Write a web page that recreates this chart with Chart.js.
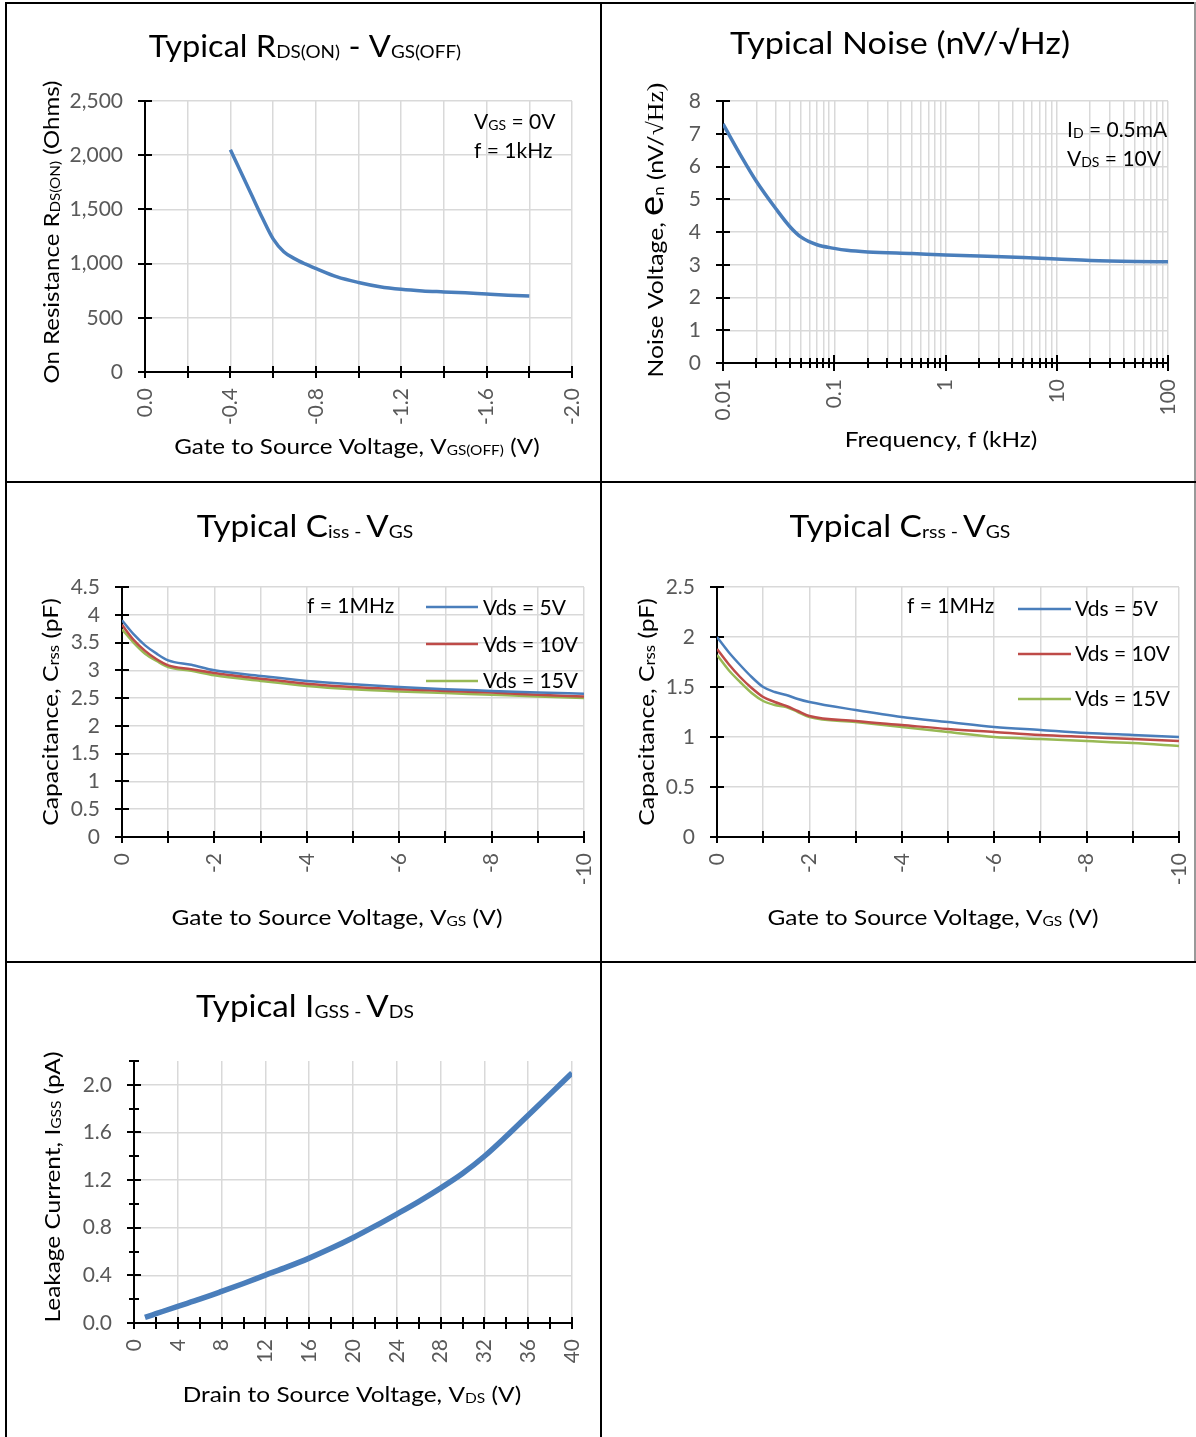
<!DOCTYPE html>
<html>
<head>
<meta charset="utf-8">
<script src="https://cdn.jsdelivr.net/npm/chart.js@4.4.1/dist/chart.umd.min.js"></script>
<style>
  body { margin: 0; background: #fff; }
  #page { position: relative; width: 1196px; height: 1437px; overflow: hidden; background: #fff; }
  #page canvas { position: absolute; }
  .rule { position: absolute; background: #000; z-index: 5; }
</style>
</head>
<body>
<div id="page">
  <canvas id="rds"></canvas>
  <canvas id="noise"></canvas>
  <canvas id="ciss"></canvas>
  <canvas id="crss"></canvas>
  <canvas id="igss"></canvas>

  <div class="rule" style="left:5px;top:2px;width:1191px;height:2px"></div>
  <div class="rule" style="left:5px;top:2px;width:2px;height:1435px"></div>
  <div class="rule" style="left:600px;top:2px;width:2px;height:1435px"></div>
  <div class="rule" style="left:1194px;top:2px;width:2px;height:961px;background:#999"></div>
  <div class="rule" style="left:5px;top:481px;width:1191px;height:2px"></div>
  <div class="rule" style="left:5px;top:961px;width:1191px;height:2px"></div>
</div>
<script>
const SANS = 'Lato, "Open Sans", sans-serif'
const SERIF = '"Liberation Serif", "DejaVu Serif", serif'
const BLUE = '#4a7ebb', RED = '#be4b48', GREEN = '#98b954'

// ---- RDS(ON) vs VGS(OFF) ----
const rdsVgs = [-0.4, -0.45, -0.5, -0.55, -0.6, -0.65, -0.7, -0.75, -0.8, -0.9, -1.0, -1.1, -1.2, -1.3, -1.4, -1.5, -1.6, -1.7, -1.8]
const rdsOhms = [2050, 1840, 1630, 1420, 1228, 1110, 1046, 997, 955, 877, 826, 787, 763, 748, 739, 730, 719, 709, 702]
const rdsXTicks = [0, -0.2, -0.4, -0.6, -0.8, -1.0, -1.2, -1.4, -1.6, -1.8, -2.0]
const rdsXLabels = ['0.0', '', '-0.4', '', '-0.8', '', '-1.2', '', '-1.6', '', '-2.0']
const rdsYTicks = [0, 500, 1000, 1500, 2000, 2500]
const rdsYLabels = ['0', '500', '1,000', '1,500', '2,000', '2,500']

// ---- Noise vs frequency ----
const noiseFreq = [0.01, 0.015, 0.02, 0.03, 0.04, 0.05, 0.07, 0.1, 0.13, 0.2, 0.5, 1, 2, 5, 10, 20, 50, 100]
const noiseEn = [7.3, 6.24, 5.54, 4.7, 4.16, 3.85, 3.61, 3.5, 3.44, 3.39, 3.34, 3.3, 3.265, 3.22, 3.175, 3.13, 3.1, 3.09]
const noiseDecades = [0.01, 0.1, 1, 10, 100]
const noiseDecadeLabels = ['0.01', '0.1', '1', '10', '100']
const noiseYTicks = [0, 1, 2, 3, 4, 5, 6, 7, 8]
const noiseYLabels = ['0', '1', '2', '3', '4', '5', '6', '7', '8']

// ---- Ciss vs VGS ----
const cissVgs = [0, -0.25, -0.5, -0.75, -1, -1.5, -2, -3, -4, -5, -6, -7, -8, -9, -10]
const ciss5V = [3.9, 3.65, 3.45, 3.3, 3.18, 3.1, 3.0, 2.9, 2.81, 2.75, 2.7, 2.66, 2.63, 2.6, 2.58]
const ciss10V = [3.82, 3.55, 3.35, 3.2, 3.09, 3.02, 2.95, 2.85, 2.76, 2.7, 2.66, 2.63, 2.6, 2.56, 2.53]
const ciss15V = [3.74, 3.5, 3.3, 3.17, 3.06, 2.99, 2.91, 2.81, 2.72, 2.66, 2.62, 2.59, 2.56, 2.53, 2.5]

// ---- Crss vs VGS ----
const crssVgs = [0, -0.25, -0.5, -0.75, -1, -1.25, -1.5, -1.75, -2, -3, -4, -5, -6, -7, -8, -9, -10]
const crss5V = [2.0, 1.85, 1.72, 1.6, 1.5, 1.45, 1.42, 1.38, 1.35, 1.27, 1.2, 1.15, 1.1, 1.07, 1.04, 1.02, 1.0]
const crss10V = [1.88, 1.73, 1.6, 1.49, 1.4, 1.35, 1.31, 1.26, 1.21, 1.16, 1.12, 1.08, 1.05, 1.02, 1.0, 0.98, 0.96]
const crss15V = [1.82, 1.67, 1.55, 1.44, 1.36, 1.32, 1.3, 1.25, 1.2, 1.15, 1.1, 1.05, 1.0, 0.98, 0.96, 0.94, 0.91]

const capXTicks = [0, -1, -2, -3, -4, -5, -6, -7, -8, -9, -10]
const capXLabels = ['0', '', '-2', '', '-4', '', '-6', '', '-8', '', '-10']
const cissYTicks = [0, 0.5, 1, 1.5, 2, 2.5, 3, 3.5, 4, 4.5]
const cissYLabels = ['0', '0.5', '1', '1.5', '2', '2.5', '3', '3.5', '4', '4.5']
const crssYTicks = [0, 0.5, 1, 1.5, 2, 2.5]
const crssYLabels = ['0', '0.5', '1', '1.5', '2', '2.5']
const vdsNames = ['Vds = 5V', 'Vds = 10V', 'Vds = 15V']

// ---- IGSS vs VDS ----
const igssVds = [1, 2, 4, 6, 8, 10, 12, 14, 16, 18, 20, 22, 24, 26, 28, 30, 32, 34, 36, 38, 40]
const igssPA = [0.047, 0.078, 0.14, 0.2, 0.265, 0.332, 0.402, 0.471, 0.545, 0.627, 0.716, 0.813, 0.915, 1.02, 1.133, 1.255, 1.4, 1.568, 1.745, 1.922, 2.1]
const igssXTicks = [0, 4, 8, 12, 16, 20, 24, 28, 32, 36, 40]
const igssXLabels = ['0', '4', '8', '12', '16', '20', '24', '28', '32', '36', '40']
const igssYTicks = [0, 0.4, 0.8, 1.2, 1.6, 2.0]
const igssYLabels = ['0.0', '0.4', '0.8', '1.2', '1.6', '2.0']

// tick-mark positions (crossing marks like Excel)
const marks = (vals, len) => vals.map(v => ({ v, len }))
const noiseGrid = []
noiseDecades.slice(0, -1).forEach(d => { for (let k = 1; k < 10; k++) noiseGrid.push(+(d * k).toPrecision(3)) })
noiseGrid.push(100)
const noiseXLabels = noiseGrid.map(v => { const i = noiseDecades.indexOf(v); return i >= 0 ? noiseDecadeLabels[i] : '' })
const igssXMarks = []
for (let v = 0; v <= 40; v += 2) igssXMarks.push(v)
const igssYMarks = []
for (let v = 0; v <= 22; v += 2) igssYMarks.push(v / 10)

const extras = {}

const excelPlugin = {
  id: 'excelAxes',
  beforeDatasetsDraw(chart) {
    const ex = extras[chart.canvas.id]
    const { ctx, chartArea: a, scales } = chart
    ctx.save()
    ctx.strokeStyle = '#000'
    ctx.lineWidth = 2
    ctx.beginPath()
    ctx.moveTo(a.left, a.top); ctx.lineTo(a.left, a.bottom)
    ctx.moveTo(a.left, a.bottom); ctx.lineTo(a.right, a.bottom)
    ex.xMarks.forEach(m => {
      const px = Math.round(scales.x.getPixelForValue(m.v))
      ctx.moveTo(px, a.bottom - m.len); ctx.lineTo(px, a.bottom + m.len)
    })
    ex.yMarks.forEach(m => {
      const py = Math.round(scales.y.getPixelForValue(m.v))
      ctx.moveTo(a.left - m.len, py); ctx.lineTo(a.left + m.len, py)
    })
    ctx.stroke()
    ctx.restore()
  },
  afterDraw(chart) {
    const ex = extras[chart.canvas.id]
    const ctx = chart.ctx
    const ox = ex.cell.x, oy = ex.cell.y
    ;(ex.legend || []).forEach(l => {
      ctx.save()
      ctx.strokeStyle = l.color
      ctx.lineWidth = 2.5
      ctx.beginPath()
      ctx.moveTo(l.x1 - ox, l.y - oy); ctx.lineTo(l.x2 - ox, l.y - oy)
      ctx.stroke()
      ctx.restore()
    })
    ex.texts.forEach(t => drawParts(ctx, t, ox, oy))
  }
}

// draws a line of text made of parts with their own sizes (for the small "subscript" letters)
function drawParts(ctx, item, ox, oy) {
  ctx.save()
  ctx.translate(item.x - ox, item.y - oy)
  if (item.rot) ctx.rotate(item.rot)
  if (item.sx) ctx.scale(item.sx, 1)
  ctx.textBaseline = 'alphabetic'
  ctx.textAlign = 'left'
  ctx.fillStyle = '#000'
  let total = 0
  const widths = item.parts.map(p => {
    ctx.font = p[1] + 'px ' + (p[2] || SANS)
    const w = ctx.measureText(p[0]).width
    total += w
    return w
  })
  let cx = item.align === 'center' ? -total / 2 : 0
  item.parts.forEach((p, i) => {
    ctx.font = p[1] + 'px ' + (p[2] || SANS)
    ctx.fillText(p[0], cx, p[1] <= 18 ? 1 : 0)
    cx += widths[i]
  })
  ctx.restore()
}

function axis(o, isX, size) {
  return {
    type: o.type || 'linear',
    min: o.min,
    max: o.max,
    reverse: !!o.reverse,
    grid: { color: '#d9d9d9', lineWidth: 1.5, drawTicks: false },
    border: { display: false },
    ticks: {
      autoSkip: false,
      padding: isX ? 16 : 22,
      color: '#595959',
      font: { family: SANS, size: 21 },
      minRotation: isX ? 90 : 0,
      maxRotation: isX ? 90 : 0,
      callback: (v, i) => o.labels[i]
    },
    afterBuildTicks: s => { s.ticks = o.grid.map(v => ({ value: v })) },
    afterFit: s => { if (isX) s.height = size; else s.width = size }
  }
}

function line(xs, ys, color, width) {
  return {
    data: xs.map((x, i) => ({ x, y: ys[i] })),
    borderColor: color,
    borderWidth: width,
    pointRadius: 0,
    fill: false,
    cubicInterpolationMode: 'monotone'
  }
}

function makeChart(id, cell, plot, xo, yo, datasets, ex) {
  const cv = document.getElementById(id)
  const extra = 40
  cv.width = cell.w + extra
  cv.height = cell.h
  cv.style.left = cell.x + 'px'
  cv.style.top = cell.y + 'px'
  ex.cell = cell
  extras[id] = ex
  return new Chart(cv, {
    type: 'line',
    data: { datasets },
    options: {
      responsive: false,
      animation: false,
      events: [],
      layout: { padding: { left: 0, top: plot.t - cell.y, right: cell.x + cell.w + extra - plot.r, bottom: 0 } },
      plugins: { legend: { display: false }, tooltip: { enabled: false } },
      scales: {
        x: axis(xo, true, cell.y + cell.h - plot.b),
        y: axis(yo, false, plot.l - cell.x)
      }
    },
    plugins: [excelPlugin]
  })
}

const R = -Math.PI / 2

makeChart('rds', { x: 7, y: 4, w: 594, h: 477 }, { l: 145, r: 572, t: 101, b: 372 },
  { min: -2, max: 0, reverse: true, grid: rdsXTicks, labels: rdsXLabels },
  { min: 0, max: 2500, grid: rdsYTicks, labels: rdsYLabels },
  [line(rdsVgs, rdsOhms, BLUE, 3.5)],
  {
    xMarks: marks(rdsXTicks, 6), yMarks: marks(rdsYTicks, 7),
    texts: [
      { x: 305, y: 57, align: 'center', sx: 1.05, parts: [['Typical R', 31], ['DS(ON)', 18], [' - V', 31], ['GS(OFF)', 18]] },
      { x: 357, y: 454, align: 'center', sx: 1.1, parts: [['Gate to Source Voltage, V', 22], ['GS(OFF)', 14], [' (V)', 22]] },
      { x: 59, y: 232, align: 'center', rot: R, sx: 1.09, parts: [['On Resistance R', 22], ['DS(ON)', 14], [' (Ohms)', 22]] },
      { x: 474, y: 129, parts: [['V', 21], ['GS', 14], [' = 0V', 21]] },
      { x: 474, y: 158, parts: [['f = 1kHz', 21]] }
    ]
  })

makeChart('noise', { x: 603, y: 4, w: 591, h: 477 }, { l: 723, r: 1168, t: 101, b: 363 },
  { type: 'logarithmic', min: 0.01, max: 100, grid: noiseGrid, labels: noiseXLabels },
  { min: 0, max: 8, grid: noiseYTicks, labels: noiseYLabels },
  [line(noiseFreq, noiseEn, BLUE, 3.5)],
  {
    xMarks: noiseGrid.map(v => ({ v, len: noiseDecades.includes(v) ? 8 : 5 })), yMarks: marks(noiseYTicks, 7),
    texts: [
      { x: 900, y: 54, align: 'center', sx: 1.1, parts: [['Typical Noise (nV/\u221AHz)', 31]] },
      { x: 941, y: 447, align: 'center', sx: 1.11, parts: [['Frequency, f (kHz)', 22]] },
      { x: 663, y: 230, align: 'center', rot: R, sx: 1.12, parts: [['Noise Voltage, ', 22], ['e', 34], ['n', 15], [' (nV/', 22], ['\u221AHz)', 23, SERIF]] },
      { x: 1067, y: 137, parts: [['I', 21], ['D', 14], [' = 0.5mA', 21]] },
      { x: 1067, y: 166, parts: [['V', 21], ['DS', 14], [' = 10V', 21]] }
    ]
  })

makeChart('ciss', { x: 7, y: 483, w: 594, h: 478 }, { l: 122, r: 584, t: 587, b: 837 },
  { min: -10, max: 0, reverse: true, grid: capXTicks, labels: capXLabels },
  { min: 0, max: 4.5, grid: cissYTicks, labels: cissYLabels },
  [line(cissVgs, ciss5V, BLUE, 2.5), line(cissVgs, ciss10V, RED, 2.5), line(cissVgs, ciss15V, GREEN, 2.5)],
  {
    xMarks: marks(capXTicks, 6), yMarks: marks(cissYTicks, 7),
    legend: [
      { x1: 426, x2: 478, y: 607, color: BLUE },
      { x1: 426, x2: 478, y: 644, color: RED },
      { x1: 426, x2: 478, y: 681, color: GREEN }
    ],
    texts: [
      { x: 305, y: 537, align: 'center', sx: 1.07, parts: [['Typical C', 31], ['iss - ', 18], ['V', 31], ['GS', 18]] },
      { x: 337, y: 925, align: 'center', sx: 1.11, parts: [['Gate to Source Voltage, V', 22], ['GS', 14], [' (V)', 22]] },
      { x: 58, y: 712, align: 'center', rot: R, sx: 1.12, parts: [['Capacitance, C', 22], ['rss', 15], [' (pF)', 22]] },
      { x: 307, y: 613, parts: [['f = 1MHz', 21]] },
      { x: 483, y: 615, parts: [[vdsNames[0], 21]] },
      { x: 483, y: 652, parts: [[vdsNames[1], 21]] },
      { x: 483, y: 688, parts: [[vdsNames[2], 21]] }
    ]
  })

makeChart('crss', { x: 603, y: 483, w: 591, h: 478 }, { l: 717, r: 1179, t: 587, b: 837 },
  { min: -10, max: 0, reverse: true, grid: capXTicks, labels: capXLabels },
  { min: 0, max: 2.5, grid: crssYTicks, labels: crssYLabels },
  [line(crssVgs, crss5V, BLUE, 2.5), line(crssVgs, crss10V, RED, 2.5), line(crssVgs, crss15V, GREEN, 2.5)],
  {
    xMarks: marks(capXTicks, 6), yMarks: marks(crssYTicks, 7),
    legend: [
      { x1: 1018, x2: 1071, y: 609, color: BLUE },
      { x1: 1018, x2: 1071, y: 654, color: RED },
      { x1: 1018, x2: 1071, y: 699, color: GREEN }
    ],
    texts: [
      { x: 900, y: 537, align: 'center', sx: 1.08, parts: [['Typical C', 31], ['rss - ', 18], ['V', 31], ['GS', 18]] },
      { x: 933, y: 925, align: 'center', sx: 1.11, parts: [['Gate to Source Voltage, V', 22], ['GS', 14], [' (V)', 22]] },
      { x: 654, y: 712, align: 'center', rot: R, sx: 1.12, parts: [['Capacitance, C', 22], ['rss', 15], [' (pF)', 22]] },
      { x: 907, y: 613, parts: [['f = 1MHz', 21]] },
      { x: 1075, y: 616, parts: [[vdsNames[0], 21]] },
      { x: 1075, y: 661, parts: [[vdsNames[1], 21]] },
      { x: 1075, y: 706, parts: [[vdsNames[2], 21]] }
    ]
  })

makeChart('igss', { x: 7, y: 963, w: 594, h: 474 }, { l: 134, r: 572, t: 1061, b: 1323 },
  { min: 0, max: 40, grid: igssXTicks, labels: igssXLabels },
  { min: 0, max: 2.2, grid: igssYTicks, labels: igssYLabels },
  [line(igssVds, igssPA, BLUE, 5.5)],
  {
    xMarks: marks(igssXMarks, 6), yMarks: igssYMarks.map(v => ({ v, len: Math.round(v * 10) % 4 === 0 ? 7 : 5 })),
    texts: [
      { x: 305, y: 1017, align: 'center', sx: 1.07, parts: [['Typical I', 31], ['GSS - ', 18], ['V', 31], ['DS', 18]] },
      { x: 352, y: 1402, align: 'center', sx: 1.11, parts: [['Drain to Source Voltage, V', 22], ['DS', 14], [' (V)', 22]] },
      { x: 60, y: 1187, align: 'center', rot: R, sx: 1.11, parts: [['Leakage Current, I', 22], ['GSS', 14], [' (pA)', 22]] }
    ]
  })
</script>
</body>
</html>
